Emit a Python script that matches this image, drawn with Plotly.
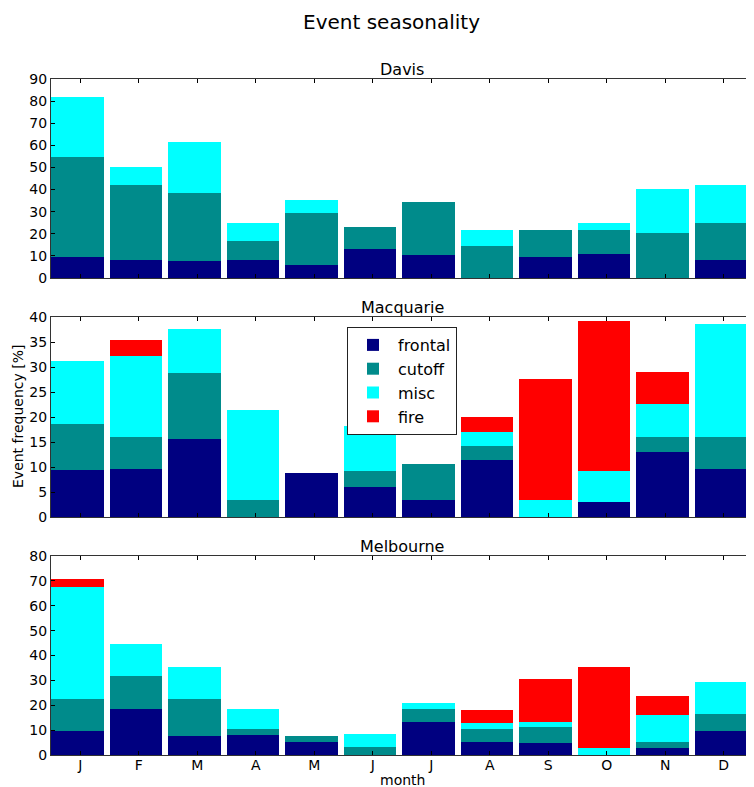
import plotly.graph_objects as go
from plotly.subplots import make_subplots

months = ["J", "F", "M", "A", "M", "J", "J", "A", "S", "O", "N", "D"]
series_names = ["frontal", "cutoff", "misc", "fire"]
stations = ["Davis", "Macquarie", "Melbourne"]

davis_frontal = [9.35, 8.3, 7.8, 8.3, 6.0, 13.1, 10.4, 0, 9.5, 11.0, 0, 8.3]
davis_cutoff = [45.55, 33.6, 30.8, 8.6, 23.5, 9.8, 24.1, 14.6, 12.4, 10.6, 20.2, 16.7]
davis_misc = [26.8, 8.1, 23.1, 8.1, 5.9, 0, 0, 7.0, 0, 3.4, 19.9, 16.9]
davis_fire = [0, 0, 0, 0, 0, 0, 0, 0, 0, 0, 0, 0]

macq_frontal = [9.5, 9.7, 15.6, 0, 8.9, 6.1, 3.5, 11.4, 0, 3.1, 13.0, 9.7]
macq_cutoff = [9.2, 6.4, 13.3, 3.5, 0, 3.1, 7.2, 2.8, 0, 0, 3.1, 6.4]
macq_misc = [12.5, 16.1, 8.8, 17.9, 0, 9.0, 0, 2.9, 3.5, 6.1, 6.5, 22.6]
macq_fire = [0, 3.2, 0, 0, 0, 0, 0, 2.9, 24.1, 30.1, 6.4, 0]

melb_frontal = [9.8, 18.5, 7.8, 8.0, 5.2, 0, 13.2, 5.4, 4.7, 0, 2.8, 9.8]
melb_cutoff = [12.7, 13.2, 14.7, 2.6, 2.3, 3.1, 5.3, 4.9, 6.4, 0, 2.6, 6.7]
melb_misc = [45.1, 13.0, 12.7, 7.9, 0, 5.5, 2.5, 2.5, 2.1, 2.8, 10.5, 12.7]
melb_fire = [3.3, 0, 0, 0, 0, 0, 0, 5.4, 17.3, 32.4, 8.0, 0]

y_max = [90, 40, 80]
y_step = [10, 5, 10]

data = [
    [davis_frontal, davis_cutoff, davis_misc, davis_fire],
    [macq_frontal, macq_cutoff, macq_misc, macq_fire],
    [melb_frontal, melb_cutoff, melb_misc, melb_fire],
]
colors = ["#000080", "#008b8b", "#00ffff", "#ff0000"]

# page has an 8px body margin: figure drawn at (8, 8)
OFF = 8
W, H = 754 - OFF, 787 - OFF
# plot area in reference (page) pixels
PL, PR, PT, PB = 51, 753, 79, 755
L, R, T, B = PL - OFF, W - (PR - OFF), PT - OFF, H - (PB - OFF)
pw = PR - PL
ph = PB - PT


def fx(x):
    return (x - PL) / pw


def fy(y):
    return (PB - y) / ph


boxes = [(79, 278), (317, 517), (556, 755)]
domains = [[fy(b), fy(t)] for t, b in boxes]

fig = make_subplots(rows=3, cols=1)

idx = list(range(len(months)))
xc = [i + 0.45 for i in idx]

for r in range(3):
    for s in range(4):
        fig.add_trace(
            go.Bar(
                x=xc, y=data[r][s], width=0.9, name=series_names[s],
                marker=dict(color=colors[s], line=dict(width=0)),
                showlegend=(r == 1), legendgroup=series_names[s],
            ),
            row=r + 1, col=1,
        )

font = "DejaVu Sans, Arial, sans-serif"
for r in range(3):
    xa = "xaxis" if r == 0 else f"xaxis{r+1}"
    ya = "yaxis" if r == 0 else f"yaxis{r+1}"
    fig.layout[xa].update(
        range=[0, 12], tickvals=[i + 0.5 for i in idx],
        ticktext=months if r == 2 else [""] * 12,
        showticklabels=(r == 2), ticklabelstandoff=-3,
        ticks="inside", ticklen=4, tickcolor="#000", showline=True, linecolor="#333",
        linewidth=1, mirror="allticks", showgrid=False, zeroline=False,
        tickfont=dict(family=font, size=14, color="#000"),
    )
    fig.layout[ya].update(
        domain=domains[r], range=[0, y_max[r]], tickmode="linear", tick0=0, dtick=y_step[r],
        ticks="inside", ticklen=4, tickcolor="#000", showline=True, linecolor="#333",
        linewidth=1, mirror="allticks", showgrid=False, zeroline=False,
        tickfont=dict(family=font, size=14, color="#000"),
    )
    t, b = boxes[r]
    fig.add_annotation(
        text=stations[r], x=0.5, xref="paper", y=fy(t - 10), yref="paper",
        yanchor="middle", showarrow=False, font=dict(family=font, size=16, color="#000"),
    )

fig.add_annotation(text="Event seasonality", x=fx(391), xref="paper",
                   y=fy(22), yref="paper", yanchor="middle", showarrow=False,
                   font=dict(family=font, size=20, color="#000"))
fig.add_annotation(text="Event frequency [%]", x=fx(18), xref="paper",
                   y=fy(417), yref="paper", textangle=-90, showarrow=False,
                   xanchor="center", yanchor="middle",
                   font=dict(family=font, size=14, color="#000"))
fig.add_annotation(text="month", x=0.5, xref="paper", y=fy(780), yref="paper",
                   yanchor="middle", showarrow=False,
                   font=dict(family=font, size=14, color="#000"))

fig.update_layout(
    width=W, height=H, margin=dict(l=L, r=R, t=T, b=B),
    barmode="stack", bargap=0, plot_bgcolor="white", paper_bgcolor="white",
    legend=dict(x=fx(347), y=fy(327), xanchor="left", yanchor="top",
                traceorder="normal", bordercolor="#222", borderwidth=1, bgcolor="white",
                font=dict(family=font, size=16, color="#000"), itemwidth=40,
                tracegroupgap=0),
    font=dict(family=font),
)

fig.write_html("out.html")
